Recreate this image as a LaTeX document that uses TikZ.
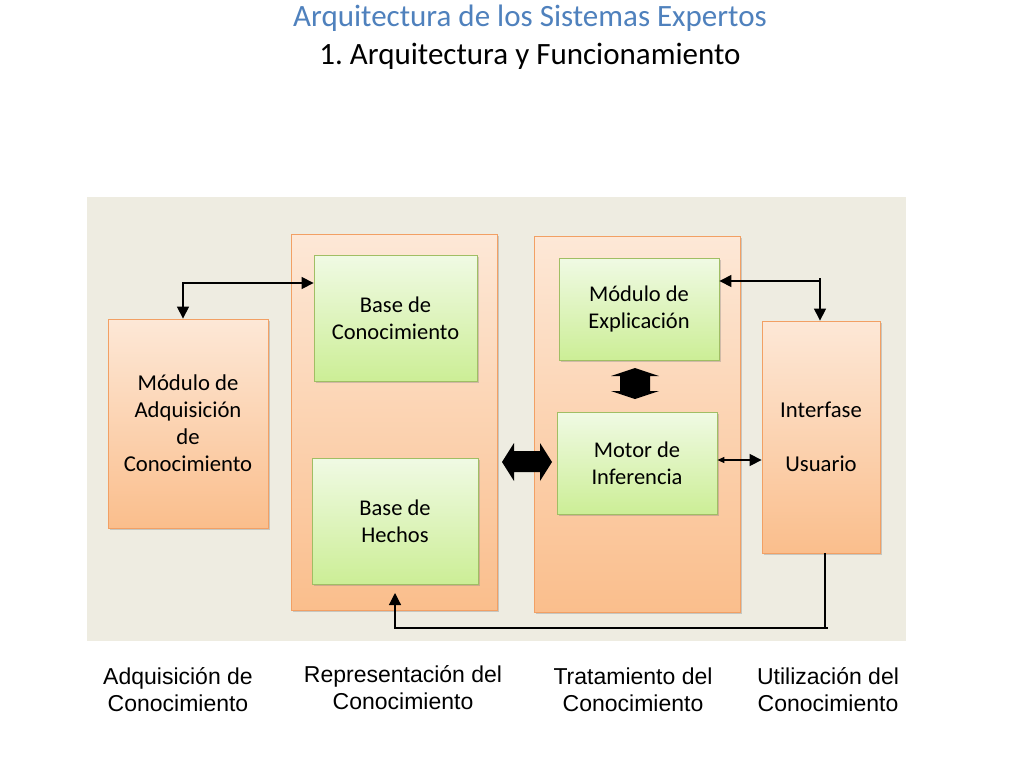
\documentclass[tikz,border=0pt]{standalone}
\usepackage{fontspec}
\setmainfont{Carlito}
\newfontfamily\labelfont{Liberation Sans}
\usetikzlibrary{arrows.meta,shadows}
\definecolor{bgbeige}{RGB}{238,236,225}
\definecolor{peachtop}{RGB}{253,232,215}
\definecolor{peachbot}{RGB}{250,190,140}
\definecolor{peachline}{RGB}{242,160,100}
\definecolor{greentop}{RGB}{240,250,228}
\definecolor{greenbot}{RGB}{204,238,150}
\definecolor{greenline}{RGB}{160,190,100}
\definecolor{titleblue}{RGB}{79,129,189}
\begin{document}
\begin{tikzpicture}[x=1pt,y=-1pt,
  orangebox/.style={draw=peachline,line width=0.8pt,top color=peachtop,bottom color=peachbot,
    drop shadow={shadow xshift=2pt,shadow yshift=-2pt,opacity=0.35},
    align=center,font=\fontsize{22.7}{27}\selectfont,inner sep=0pt},
  greenbox/.style={draw=greenline,line width=0.8pt,top color=greentop,bottom color=greenbot,
    drop shadow={shadow xshift=2pt,shadow yshift=-2pt,opacity=0.35},
    align=center,font=\fontsize{22.5}{27}\selectfont,inner sep=0pt},
  link/.style={line width=1.2pt},
  bighead/.tip={Triangle[length=12pt,width=12pt]},
  smallhead/.tip={Triangle[length=7pt,width=6pt]},
  stage/.style={align=center,font=\labelfont\fontsize{23}{27}\selectfont}]
  \useasboundingbox (0,0) rectangle (1024,768);
  \fill[white] (0,0) rectangle (1024,768);
  % titles
  \node[text=titleblue,font=\fontsize{31}{34}\selectfont] (title) at (530,18) {Arquitectura de los Sistemas Expertos};
  \node[font=\fontsize{31}{34}\selectfont] (subtitle) at (530,56) {1.\ Arquitectura y Funcionamiento};
  \fill[bgbeige] (87,197) rectangle (906,641);
  % containers
  \node[orangebox,minimum width=206pt,minimum height=376pt] (repr) at (394,422) {};
  \node[orangebox,minimum width=206pt,minimum height=376pt] (trat) at (637,424) {};
  \node[orangebox,minimum width=160pt,minimum height=209pt] (adq) at (188,423.5) {M\'odulo de\\ Adquisici\'on\\ de\\ Conocimiento};
  \node[orangebox,minimum width=118pt,minimum height=232pt] (inter) at (821,437) {Interfase\\[27pt] Usuario};
  % inner boxes
  \node[greenbox,minimum width=163pt,minimum height=126pt] (basec) at (395.5,318) {Base de\\ Conocimiento};
  \node[greenbox,minimum width=166pt,minimum height=126pt] (baseh) at (395,521) {Base de\\ Hechos};
  \node[greenbox,minimum width=160pt,minimum height=102pt] (expl) at (639,309) {M\'odulo de\\ Explicaci\'on};
  \node[greenbox,minimum width=160pt,minimum height=102pt] (motor) at (637,463) {Motor de\\ Inferencia};
  % fat arrows
  \fill (502,462) -- (514,443) -- (514,451) -- (540,451) -- (540,443) -- (552,462)
    -- (540,481) -- (540,472) -- (514,472) -- (514,481) -- cycle;
  \fill (635,368) -- (659,376) -- (650,376) -- (650,391) -- (659,391) -- (635,399)
    -- (611,391) -- (620,391) -- (620,376) -- (611,376) -- cycle;
  % thin connectors
  \draw[link,bighead-bighead] (adq.north -| 183,0) |- (basec.west |- 0,283);
  \coordinate (tickA) at (820,278);
  \draw[link,bighead-] (expl.east |- 0,281) -- (820,281);
  \draw[link,-bighead] (tickA) -- (inter.north -| tickA);
  \draw[link,smallhead-bighead] (motor.east |- 0,460) -- (inter.west |- 0,460);
  \coordinate (hechosin) at (395,593);
  \draw[link] (inter.south -| 825,0) -- (825,628) -- (828,628);
  \draw[link,-bighead] (825,628) -| (hechosin);
  % stage labels
  \node[stage] (lblA) at (178,690) {Adquisici\'on de\\ Conocimiento};
  \node[stage] (lblR) at (403,688) {Representaci\'on del\\ Conocimiento};
  \node[stage] (lblT) at (633,690) {Tratamiento del\\ Conocimiento};
  \node[stage] (lblU) at (828,690) {Utilizaci\'on del\\ Conocimiento};
\end{tikzpicture}
\end{document}
